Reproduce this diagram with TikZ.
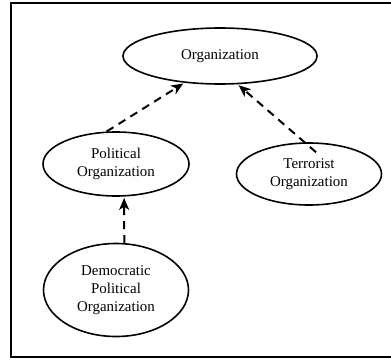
\documentclass[tikz,border=0pt]{standalone}
\usepackage{fontspec}
\setmainfont{Liberation Serif}
\usetikzlibrary{shapes.geometric,arrows.meta}

\tikzset{every picture/.style={line width=0.75pt}}
\tikzset{
	cls/.style={draw,ellipse,line width=1.2pt,inner sep=0pt,align=center,font=\fontsize{11.2}{13.6}\selectfont},
	isa/.style={line width=1.5pt,dash pattern=on 6pt off 4.5pt,-{Stealth[length=9pt,width=7.5pt,inset=2.5pt]},shorten >=1pt}
}

\begin{document}
\begin{tikzpicture}[x=0.75pt,y=0.75pt,yscale=-1,xscale=1]
	\clip (0,0) rectangle (391,360);
	\useasboundingbox (0,0) rectangle (391,360);

	%Shape: Rectangle [frame]
	\draw [line width=1.1pt] (11,3) rectangle (400,357) ;

	% Class Nodes
	\node [cls,minimum width=145.5pt,minimum height=42pt] (org) at (220,56) {Organization};
	\node [cls,minimum width=109.5pt,minimum height=48pt] (pol) at (116,164) {Political\\Organization};
	\node [cls,minimum width=108.75pt,minimum height=46.5pt] (ter) at (309,174) {Terrorist\\Organization};
	\node [cls,minimum width=108.75pt,minimum height=69.75pt] (dem) at (116,290) {Democratic\\Political\\Organization};

	% Dashed Arrows
	\draw [isa] (pol.106) -- (org.217) ;
	\draw [isa] ([xshift=5.25pt,yshift=7.5pt]ter.north) -- (org.302) ;
	\draw [isa] (dem.80) -- (pol.284) ;

\end{tikzpicture}
\end{document}
